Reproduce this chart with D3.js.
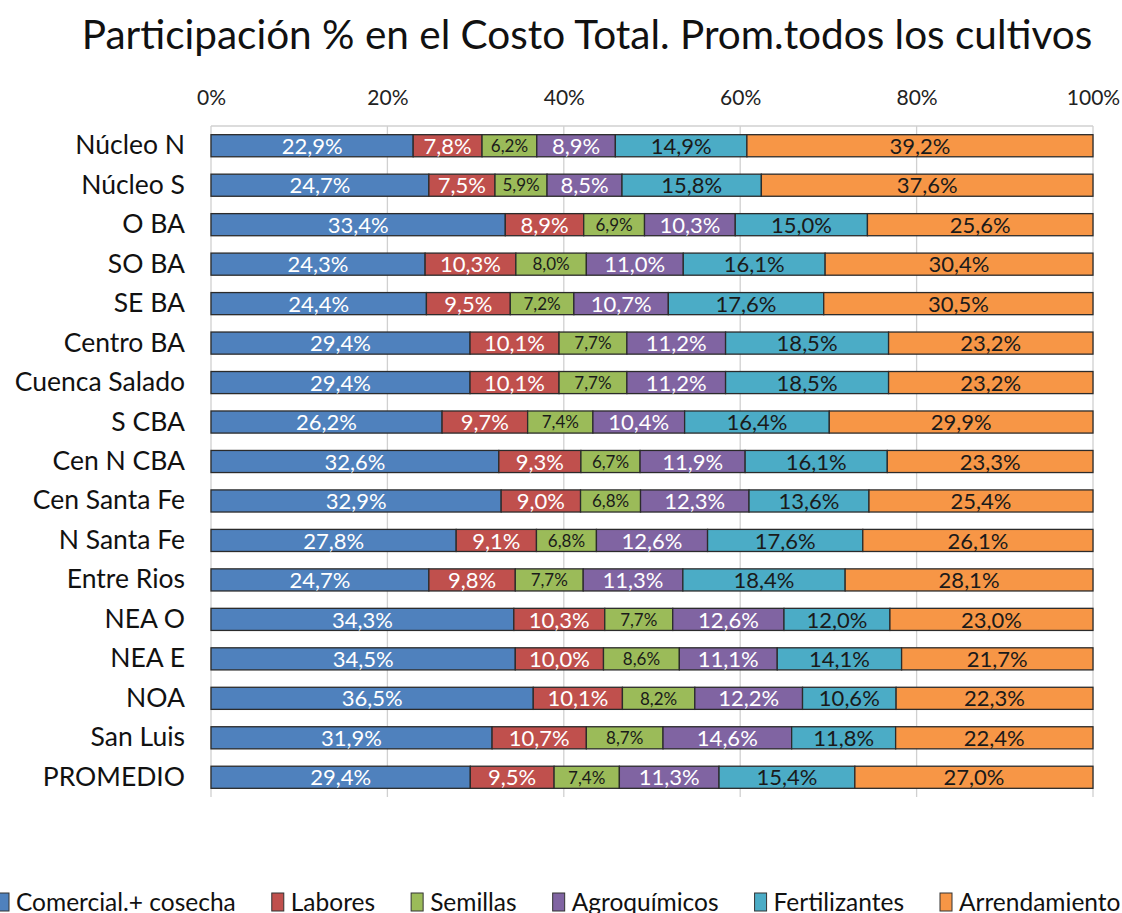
<!DOCTYPE html>
<html>
<head>
<meta charset="utf-8">
<script src="https://cdn.jsdelivr.net/npm/d3@7"></script>
<style>
  body { margin: 0; background: #fff; }
  svg { display: block; font-family: Lato, "Open Sans", sans-serif; }
</style>
</head>
<body>
<div id="chart"></div>
<script>
// Datos: participación % en el costo total por zona
const zonas = ['Núcleo N', 'Núcleo S', 'O BA', 'SO BA', 'SE BA', 'Centro BA', 'Cuenca Salado',
    'S CBA', 'Cen N CBA', 'Cen Santa Fe', 'N Santa Fe', 'Entre Rios', 'NEA O', 'NEA E', 'NOA',
    'San Luis', 'PROMEDIO'];
const series = ['Comercial.+ cosecha', 'Labores', 'Semillas', 'Agroquímicos', 'Fertilizantes', 'Arrendamiento'];

const comercial     = [22.9, 24.7, 33.4, 24.3, 24.4, 29.4, 29.4, 26.2, 32.6, 32.9, 27.8, 24.7, 34.3, 34.5, 36.5, 31.9, 29.4];
const labores       = [7.8, 7.5, 8.9, 10.3, 9.5, 10.1, 10.1, 9.7, 9.3, 9.0, 9.1, 9.8, 10.3, 10.0, 10.1, 10.7, 9.5];
const semillas      = [6.2, 5.9, 6.9, 8.0, 7.2, 7.7, 7.7, 7.4, 6.7, 6.8, 6.8, 7.7, 7.7, 8.6, 8.2, 8.7, 7.4];
const agroquimicos  = [8.9, 8.5, 10.3, 11.0, 10.7, 11.2, 11.2, 10.4, 11.9, 12.3, 12.6, 11.3, 12.6, 11.1, 12.2, 14.6, 11.3];
const fertilizantes = [14.9, 15.8, 15.0, 16.1, 17.6, 18.5, 18.5, 16.4, 16.1, 13.6, 17.6, 18.4, 12.0, 14.1, 10.6, 11.8, 15.4];
const arrendamiento = [39.2, 37.6, 25.6, 30.4, 30.5, 23.2, 23.2, 29.9, 23.3, 25.4, 26.1, 28.1, 23.0, 21.7, 22.3, 22.4, 27.0];

const xTicks = [0, 0.2, 0.4, 0.6, 0.8, 1];

const colores = ['#4f81bd', '#c0504d', '#9bbb59', '#8064a2', '#4bacc6', '#f79646'];
const colorTexto = ['#fff', '#fff', '#1a1a1a', '#fff', '#1a1a1a', '#1a1a1a'];

const valores = [comercial, labores, semillas, agroquimicos, fertilizantes, arrendamiento];
const filas = zonas.map((z, i) => {
    const o = { zona: z };
    series.forEach((s, j) => { o[s] = valores[j][i]; });
    return o;
});

const W = 1122, H = 913;
const margin = { top: 126, right: 29, bottom: 116, left: 211 };
const width = W - margin.left - margin.right;
const height = H - margin.top - margin.bottom;

const svg = d3.select('#chart').append('svg')
    .attr('width', W)
    .attr('height', H);

svg.append('text')
    .attr('x', 587)
    .attr('y', 49)
    .attr('text-anchor', 'middle')
    .style('font-size', '40.5px')
    .attr('fill', '#111')
    .text('Participación % en el Costo Total. Prom.todos los cultivos');

const g = svg.append('g').attr('transform', `translate(${margin.left},${margin.top})`);

const x = d3.scaleLinear().domain([0, 1]).range([0, width]);
const y = d3.scaleBand().domain(zonas).range([0, height]).paddingInner(0.44).paddingOuter(0.22);

// Grilla vertical
g.selectAll('.grid')
    .data(xTicks)
    .enter()
    .append('line')
    .attr('x1', d => x(d))
    .attr('x2', d => x(d))
    .attr('y1', 0)
    .attr('y2', height)
    .attr('stroke', '#d0d0d0')
    .attr('stroke-width', 1.3);

g.append('line')
    .attr('x1', 0).attr('x2', width)
    .attr('y1', 0).attr('y2', 0)
    .attr('stroke', '#d0d0d0')
    .attr('stroke-width', 1.3);

// Eje superior
const xAxis = g.append('g')
    .call(d3.axisTop(x).tickValues(xTicks).tickFormat(d3.format('.0%')).tickSize(0).tickPadding(21));
xAxis.select('.domain').remove();
xAxis.selectAll('text')
    .style('font-size', '21px')
    .style('font-family', 'Lato, sans-serif')
    .attr('fill', '#222');

// Eje izquierdo
const yAxis = g.append('g')
    .call(d3.axisLeft(y).tickSize(0).tickPadding(26));
yAxis.select('.domain').remove();
yAxis.selectAll('text')
    .style('font-size', '26.5px')
    .style('font-family', 'Lato, sans-serif')
    .attr('fill', '#111');

const stack = d3.stack().keys(series).offset(d3.stackOffsetExpand);
const capas = stack(filas);

const capa = g.selectAll('.capa')
    .data(capas)
    .enter()
    .append('g')
    .attr('fill', (d, i) => colores[i]);

capa.selectAll('rect')
    .data(d => d)
    .enter()
    .append('rect')
    .attr('x', d => x(d[0]))
    .attr('y', d => y(d.data.zona))
    .attr('width', d => x(d[1]) - x(d[0]))
    .attr('height', y.bandwidth())
    .attr('stroke', '#2b2b2b')
    .attr('stroke-width', 1.3);

capa.each(function (c, i) {
    d3.select(this).selectAll('text')
        .data(c)
        .enter()
        .append('text')
        .attr('x', d => (x(d[0]) + x(d[1])) / 2)
        .attr('y', d => y(d.data.zona) + y.bandwidth() / 2)
        .attr('dy', '0.37em')
        .attr('text-anchor', 'middle')
        .attr('fill', colorTexto[i])
        .style('font-size', i === 2 ? '17px' : '22px')
        .text(d => d3.format('.1f')(d.data[c.key]).replace('.', ',') + '%');
});

// Leyenda
const leyenda = svg.append('g').attr('transform', 'translate(0,911)');
let lx = -3;
series.forEach((s, i) => {
    const item = leyenda.append('g').attr('transform', `translate(${lx},0)`);
    item.append('rect')
        .attr('x', 0).attr('y', -18)
        .attr('width', 12).attr('height', 18)
        .attr('fill', colores[i])
        .attr('stroke', '#333')
        .attr('stroke-width', 1);
    const t = item.append('text')
        .attr('x', 19)
        .attr('y', 0)
        .style('font-size', '24.5px')
        .attr('fill', '#111')
        .text(s);
    lx += 19 + t.node().getComputedTextLength() + 36;
});
</script>
</body>
</html>
